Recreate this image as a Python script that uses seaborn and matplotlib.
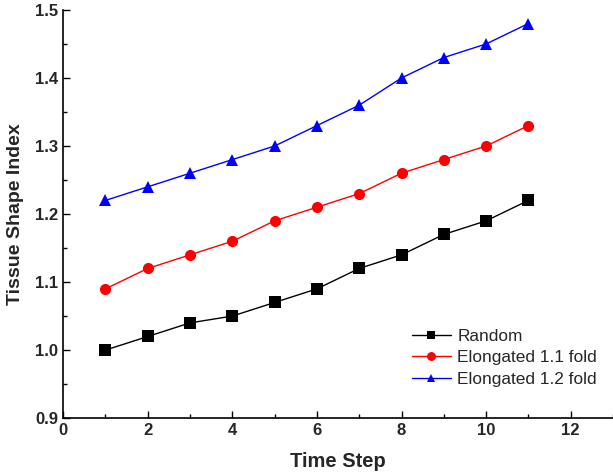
import matplotlib
matplotlib.use("Agg")
import matplotlib.pyplot as plt
from matplotlib.ticker import MultipleLocator
import seaborn as sns
import pandas as pd

steps = [1, 2, 3, 4, 5, 6, 7, 8, 9, 10, 11]
random_vals = [1.00, 1.02, 1.04, 1.05, 1.07, 1.09, 1.12, 1.14, 1.17, 1.19, 1.22]
elong_11 = [1.09, 1.12, 1.14, 1.16, 1.19, 1.21, 1.23, 1.26, 1.28, 1.30, 1.33]
elong_12 = [1.22, 1.24, 1.26, 1.28, 1.30, 1.33, 1.36, 1.40, 1.43, 1.45, 1.48]
names = ["Random", "Elongated 1.1 fold", "Elongated 1.2 fold"]

rows = []
for name, vals in zip(names, [random_vals, elong_11, elong_12]):
    for s, v in zip(steps, vals):
        rows.append({"step": s, "value": v, "series": name})
df = pd.DataFrame(rows)

sns.set_style("ticks")
plt.rcParams['font.family'] = ['Liberation Sans', 'DejaVu Sans']

fig = plt.figure(figsize=(6.13, 4.73), dpi=100)
ax = fig.add_axes([0.103, 0.116, 0.897, 0.863])

colors = {"Random": "black", "Elongated 1.1 fold": "red", "Elongated 1.2 fold": "blue"}
markers = {"Random": "s", "Elongated 1.1 fold": "o", "Elongated 1.2 fold": "^"}
sns.lineplot(data=df, x="step", y="value", hue="series", style="series",
             palette=colors, markers=markers, dashes=False, markersize=8,
             markeredgewidth=0, linewidth=1, ax=ax)

ax.set_xlim(0, 13)
ax.set_ylim(0.9, 1.5)
ax.xaxis.set_major_locator(MultipleLocator(2))
ax.xaxis.set_minor_locator(MultipleLocator(1))
ax.yaxis.set_major_locator(MultipleLocator(0.1))
ax.yaxis.set_minor_locator(MultipleLocator(0.05))
ax.tick_params(which="both", direction="in", width=1, color="black")
ax.tick_params(which="major", length=5, labelsize=12)
ax.tick_params(which="minor", length=3)
for lab in ax.get_xticklabels() + ax.get_yticklabels():
    lab.set_fontweight("bold")
for sp in ["top", "right"]:
    ax.spines[sp].set_visible(False)
for sp in ["left", "bottom"]:
    ax.spines[sp].set_linewidth(1.2)
    ax.spines[sp].set_color("black")

ax.set_xlabel("Time Step", fontsize=14.5, fontweight="bold", labelpad=10)
ax.set_ylabel("Tissue Shape Index", fontsize=14, fontweight="bold", labelpad=8)

leg = ax.legend(loc="upper left", bbox_to_anchor=(0.618, 0.24), frameon=False,
                borderpad=0, fontsize=12.4, handlelength=2.3, labelspacing=0.38,
                handletextpad=0.35, markerscale=0.8)
leg.set_title(None)

fig.savefig("out.png", dpi=100)
